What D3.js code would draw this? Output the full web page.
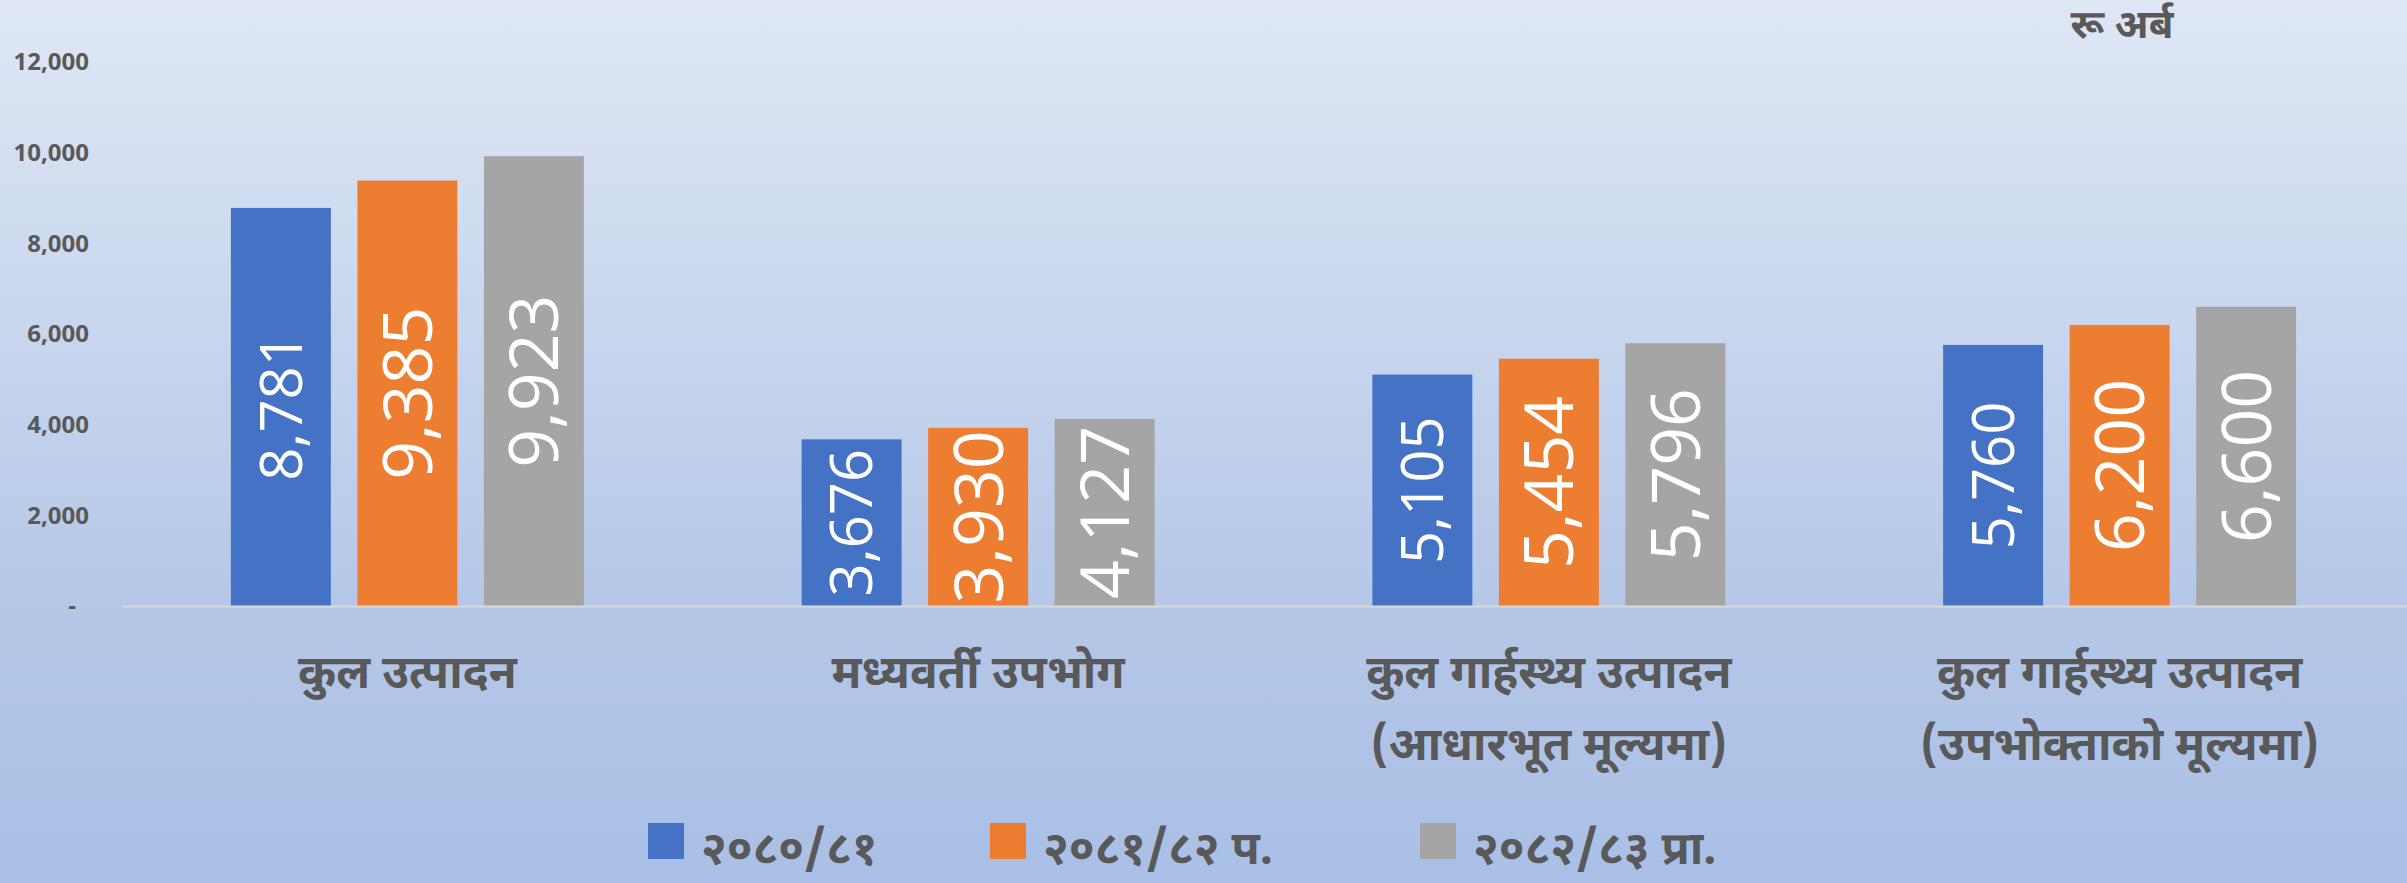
<!DOCTYPE html>
<html>
<head>
<meta charset="utf-8">
<script src="https://cdn.jsdelivr.net/npm/d3@7"></script>
<style>
  body { margin: 0; overflow: hidden; }
  text { font-family: "Noto Sans Devanagari", "Noto Sans", "Open Sans", sans-serif; }
</style>
</head>
<body>
<script>
// data (रू अर्ब)
var categories = [
  ["कुल उत्पादन"],
  ["मध्यवर्ती उपभोग"],
  ["कुल गार्हस्थ्य उत्पादन", "(आधारभूत मूल्यमा)"],
  ["कुल गार्हस्थ्य उत्पादन", "(उपभोक्ताको मूल्यमा)"]
];
var seriesNames = ["२०८०/८१", "२०८१/८२ प.", "२०८२/८३ प्रा."];
var values2080 = [8781, 3676, 5105, 5760];
var values2081 = [9385, 3930, 5454, 6200];
var values2082 = [9923, 4127, 5796, 6600];
var yTicks = [0, 2000, 4000, 6000, 8000, 10000, 12000];
var unitLabel = "रू अर्ब";

var colors = ["#4472c4", "#ed7d31", "#a5a5a5"];
var labelSizes = [58, 68, 68]; // first series labels are smaller in the original

window.onload = function(){

  var w = 2407, h = 883;

  var svg = d3.select("body")
    .append("svg")
    .attr("width", w)
    .attr("height", h);

  // background gradient
  var grad = svg.append("defs").append("linearGradient")
    .attr("id", "bg")
    .attr("x1", 0).attr("y1", 0).attr("x2", 0).attr("y2", 1);
  grad.append("stop").attr("offset", "0%").attr("stop-color", "#dfe7f5");
  grad.append("stop").attr("offset", "70%").attr("stop-color", "#b4c7e7");
  grad.append("stop").attr("offset", "100%").attr("stop-color", "#a9bfe5");

  svg.append("rect")
    .attr("width", w)
    .attr("height", h)
    .style("fill", "url(#bg)");

  var series = [values2080, values2081, values2082];
  var catKeys = categories.map(function(c){ return c.join(" "); });

  var x0 = d3.scaleBand()
    .domain(catKeys)
    .range([122, 2405]);

  var groupW = 353;
  var x1 = d3.scaleBand()
    .domain(seriesNames)
    .range([0, groupW])
    .paddingInner(0.21);

  var y = d3.scaleLinear()
    .domain([0, 12000])
    .range([606, 62]);

  // y axis labels
  var yAxis = svg.append("g")
    .attr("transform", "translate(122,0)")
    .call(d3.axisLeft(y)
      .tickValues(yTicks)
      .tickSize(0)
      .tickPadding(33)
      .tickFormat(function(d){ return d === 0 ? "-" : d3.format(",")(d); }));
  yAxis.select(".domain").remove();
  yAxis.selectAll("text")
    .style("font-family", "'Open Sans', sans-serif")
    .style("font-weight", "bold")
    .style("font-size", "24px")
    .style("fill", "#595959")
    .attr("dx", function(d){ return d === 0 ? -13 : 0; });

  // bars
  var groups = svg.selectAll(".group")
    .data(catKeys)
    .enter()
    .append("g")
    .attr("class", "group")
    .attr("transform", function(d){
      return "translate(" + (x0(d) + (x0.bandwidth() - groupW) / 2) + ",0)";
    });

  var bars = groups.selectAll(".bar")
    .data(function(d, i){
      return series.map(function(s, j){ return {name: seriesNames[j], value: s[i], j: j}; });
    })
    .enter();

  bars.append("rect")
    .attr("class", "bar")
    .attr("x", function(d){ return x1(d.name); })
    .attr("y", function(d){ return y(d.value); })
    .attr("width", x1.bandwidth())
    .attr("height", function(d){ return y(0) - y(d.value); })
    .style("fill", function(d){ return colors[d.j]; });

  // rotated value labels, centred in the bar
  bars.append("text")
    .attr("transform", function(d){
      var cx = x1(d.name) + x1.bandwidth() / 2;
      var cy = (y(d.value) + y(0)) / 2;
      return "translate(" + cx + "," + cy + ") rotate(-90)";
    })
    .attr("text-anchor", "middle")
    .attr("dy", "0.36em")
    .style("font-family", "'Open Sans', sans-serif")
    .style("font-size", function(d){ return labelSizes[d.j] + "px"; })
    .style("fill", "#ffffff")
    .text(function(d){ return d3.format(",")(d.value); });

  // baseline
  svg.append("line")
    .attr("x1", x0.range()[0])
    .attr("x2", w)
    .attr("y1", y(0) + 0.5)
    .attr("y2", y(0) + 0.5)
    .style("stroke", "#d9d9d9")
    .style("stroke-width", 2);

  // category labels
  var catText = svg.selectAll(".cat")
    .data(categories)
    .enter()
    .append("text")
    .attr("class", "cat")
    .attr("text-anchor", "middle")
    .attr("x", function(d, i){ return x0(catKeys[i]) + x0.bandwidth() / 2; })
    .attr("y", 688)
    .style("font-size", "46px")
    .style("font-weight", "bold")
    .style("fill", "#595959");
  catText.selectAll("tspan")
    .data(function(d){ return d; })
    .enter()
    .append("tspan")
    .attr("x", function(){ return d3.select(this.parentNode).attr("x"); })
    .attr("dy", function(d, i){ return i === 0 ? 0 : 72; })
    .text(function(d){ return d; });

  // legend
  var legendX = [648, 990, 1420];
  var legend = svg.selectAll(".legend")
    .data(seriesNames)
    .enter()
    .append("g")
    .attr("class", "legend")
    .attr("transform", function(d, i){ return "translate(" + legendX[i] + ",823)"; });
  legend.append("rect")
    .attr("width", 36)
    .attr("height", 36)
    .style("fill", function(d, i){ return colors[i]; });
  legend.append("text")
    .attr("x", 53)
    .attr("y", 41)
    .style("font-size", "46px")
    .style("font-weight", "bold")
    .style("fill", "#595959")
    .text(function(d){ return d; });

  // unit
  svg.append("text")
    .attr("x", 2122)
    .attr("y", 38)
    .attr("text-anchor", "middle")
    .style("font-size", "40px")
    .style("font-weight", "bold")
    .style("fill", "#595959")
    .text(unitLabel);
};
</script>
</body>
</html>
